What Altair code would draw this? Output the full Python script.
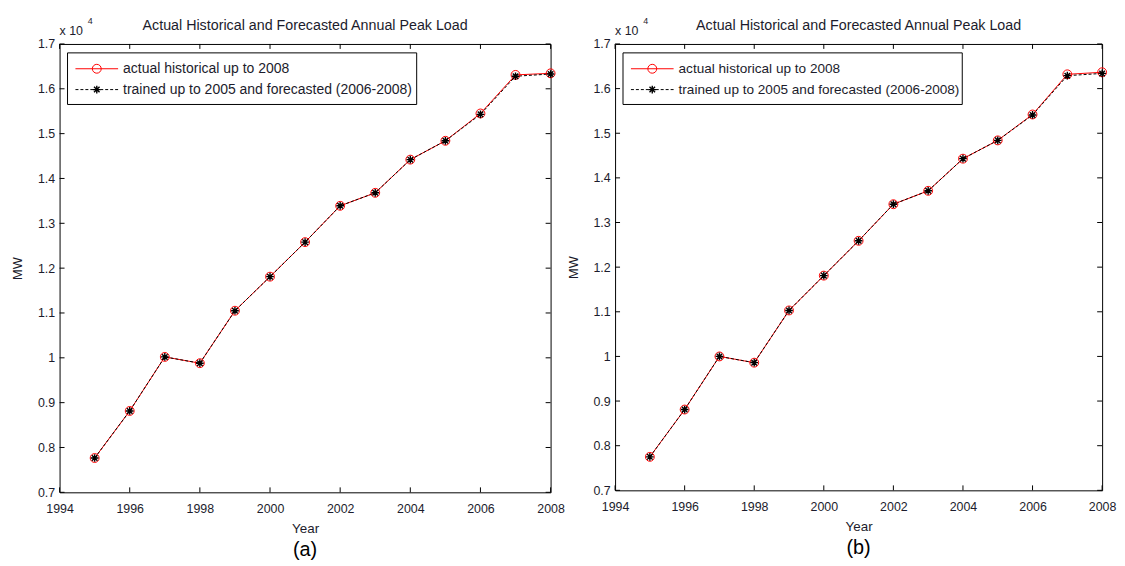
import altair as alt
import pandas as pd

# ---------------- data ----------------
years = [1995, 1996, 1997, 1998, 1999, 2000, 2001, 2002, 2003, 2004, 2005, 2006, 2007, 2008]
actual_a = [7765, 8815, 10020, 9880, 11050, 11810, 12580, 13390, 13680, 14420, 14840, 15450, 16310, 16345]
forecast_a = [7765, 8815, 10020, 9880, 11050, 11810, 12580, 13390, 13680, 14420, 14840, 15430, 16280, 16330]
actual_b = [7750, 8810, 10000, 9860, 11030, 11810, 12590, 13410, 13710, 14430, 14840, 15420, 16320, 16366]
forecast_b = [7750, 8810, 10000, 9860, 11030, 11810, 12590, 13410, 13710, 14430, 14840, 15410, 16290, 16340]
x_ticks = [1994, 1996, 1998, 2000, 2002, 2004, 2006, 2008]
y_ticks = [7000, 8000, 9000, 10000, 11000, 12000, 13000, 14000, 15000, 16000, 17000]
title_text = "Actual Historical and Forecasted Annual Peak Load"
legend_labels = ["actual historical up to 2008", "trained up to 2005 and forecasted (2006-2008)"]
panel_tags = ["(a)", "(b)"]
x_title = "Year"
y_title = "MW"

FONT = "Liberation Sans"
TXT = "#1c1c2c"
RED = "#ff0000"
ASTER = "M0,-1V1M-1,0H1M-0.72,-0.72L0.72,0.72M-0.72,0.72L0.72,-0.72"
TICK_FS = 12.5


def panel(actual, forecast, W, H, tag, box_w, leg_fs):
    df = pd.DataFrame({"Year": years, "Actual": actual, "Forecast": forecast})
    xs = alt.Scale(domain=[x_ticks[0], x_ticks[-1]], nice=False, zero=False)
    ys = alt.Scale(domain=[y_ticks[0], y_ticks[-1]], nice=False, zero=False)
    x_axis = alt.Axis(values=x_ticks, format="d", title=x_title, ticks=False, tickSize=0,
                      domain=False, grid=False, labelFlush=False, labelBound=False, labelOverlap=False,
                      labelPadding=10, titlePadding=7, labelFont=FONT, labelFontSize=TICK_FS,
                      titleFont=FONT, titleFontSize=13.5, titleFontWeight="normal",
                      labelColor=TXT, titleColor=TXT)
    y_axis = alt.Axis(values=y_ticks, labelExpr="format(datum.value / 10000, '.1~f')", title=y_title,
                      ticks=False, tickSize=0, domain=False, grid=False, labelFlush=False,
                      labelOverlap=False, labelPadding=5, minExtent=23, maxExtent=23, titlePadding=12,
                      labelFont=FONT, labelFontSize=TICK_FS, titleFont=FONT, titleFontSize=13,
                      titleFontWeight="normal", labelColor=TXT, titleColor=TXT)
    base = alt.Chart(df)
    xq = alt.X("Year:Q", scale=xs, axis=x_axis)
    red_line = base.mark_line(color=RED, strokeWidth=1).encode(
        x=xq, y=alt.Y("Actual:Q", scale=ys, axis=y_axis))
    red_pts = base.mark_point(shape="circle", filled=False, color=RED, size=80, strokeWidth=1, opacity=1).encode(
        x=xq, y=alt.Y("Actual:Q", scale=ys, axis=y_axis))
    blk_line = base.mark_line(color="black", strokeWidth=1, strokeDash=[3, 2]).encode(
        x=xq, y=alt.Y("Forecast:Q", scale=ys, axis=y_axis))
    blk_pts = base.mark_point(shape=ASTER, filled=False, color="black", size=60, strokeWidth=1.4, opacity=1).encode(
        x=xq, y=alt.Y("Forecast:Q", scale=ys, axis=y_axis))

    # inward ticks (MATLAB box style)
    ydf = alt.Chart(pd.DataFrame({"v": y_ticks}))
    xdf = alt.Chart(pd.DataFrame({"v": x_ticks}))
    yl = ydf.mark_rule(color="black", strokeWidth=1).encode(
        y=alt.Y("v:Q", scale=ys, axis=y_axis), x=alt.value(0), x2=alt.value(5))
    yr = ydf.mark_rule(color="black", strokeWidth=1).encode(
        y=alt.Y("v:Q", scale=ys, axis=y_axis), x=alt.value(W - 5), x2=alt.value(W))
    xb = xdf.mark_rule(color="black", strokeWidth=1).encode(
        x=alt.X("v:Q", scale=xs, axis=x_axis), y=alt.value(H - 5), y2=alt.value(H))
    xt = xdf.mark_rule(color="black", strokeWidth=1).encode(
        x=alt.X("v:Q", scale=xs, axis=x_axis), y=alt.value(0), y2=alt.value(5))

    one = alt.Chart(pd.DataFrame({"k": [0]}))
    # legend
    leg_box = one.mark_rect(fill="white", stroke="black", strokeWidth=1).encode(
        x=alt.value(8), x2=alt.value(8 + box_w), y=alt.value(9), y2=alt.value(61))
    leg_l1 = one.mark_rule(color=RED, strokeWidth=1).encode(
        x=alt.value(16), x2=alt.value(59), y=alt.value(25))
    leg_p1 = one.mark_point(shape="circle", filled=False, color=RED, size=80, strokeWidth=1, opacity=1).encode(
        x=alt.value(37.5), y=alt.value(25))
    leg_l2 = one.mark_rule(color="black", strokeWidth=1, strokeDash=[3, 2]).encode(
        x=alt.value(16), x2=alt.value(59), y=alt.value(46))
    leg_p2 = one.mark_point(shape=ASTER, filled=False, color="black", size=60, strokeWidth=1.4, opacity=1).encode(
        x=alt.value(37.5), y=alt.value(46))
    leg_t1 = one.mark_text(align="left", baseline="middle", font=FONT, fontSize=leg_fs, color=TXT,
                           text=legend_labels[0]).encode(x=alt.value(64), y=alt.value(25))
    leg_t2 = one.mark_text(align="left", baseline="middle", font=FONT, fontSize=leg_fs, color=TXT,
                           text=legend_labels[1]).encode(x=alt.value(64), y=alt.value(46))

    # title, exponent, panel tag
    ttl = one.mark_text(align="center", baseline="middle", font=FONT, fontSize=14.4, color=TXT,
                        text=title_text).encode(x=alt.value(W / 2), y=alt.value(-18))
    exp1 = one.mark_text(align="left", baseline="middle", font=FONT, fontSize=TICK_FS, color=TXT,
                         text="x 10").encode(x=alt.value(0), y=alt.value(-13))
    exp2 = one.mark_text(align="left", baseline="middle", font=FONT, fontSize=9, color=TXT,
                         text="4").encode(x=alt.value(28.5), y=alt.value(-23))
    tagm = one.mark_text(align="center", baseline="middle", font=FONT, fontSize=20, color="black",
                         text=tag).encode(x=alt.value(W / 2), y=alt.value(H + 58))

    return alt.layer(red_line, yl, yr, xb, xt, blk_line, red_pts, blk_pts,
                     leg_box, leg_l1, leg_l2, leg_p1, leg_p2, leg_t1, leg_t2,
                     ttl, exp1, exp2, tagm).properties(width=W, height=H)


pa = panel(actual_a, forecast_a, 495, 452, panel_tags[0], 352, 14.1)
pb = panel(actual_b, forecast_b, 491, 450, panel_tags[1], 342, 13.7)

chart = alt.hconcat(pa, pb, spacing=65, bounds="flush").properties(
    padding={"left": 3, "top": 6, "right": 0, "bottom": 0}, background="white"
).configure_view(stroke="black", strokeWidth=1)

chart.save("out.html", embed_options={"renderer": "svg", "actions": False})
